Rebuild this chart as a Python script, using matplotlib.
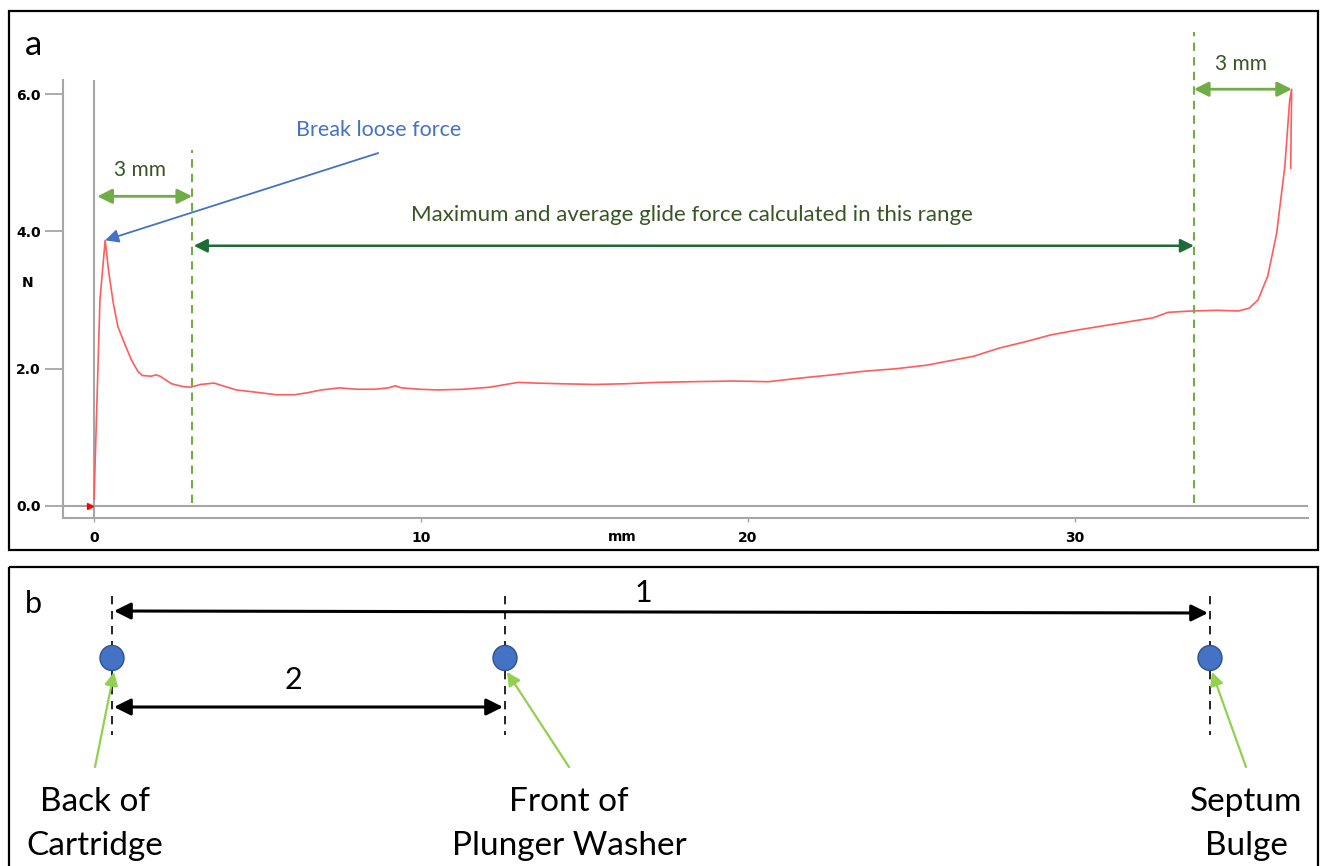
"""Glide force profile (panel a) and measurement schematic (panel b)."""

import matplotlib.pyplot as plt
from matplotlib.patches import Ellipse, Rectangle

# force curve: travel (mm) vs force (N)
FORCE_X = [0.0, 0.05, 0.18, 0.34, 0.45, 0.59, 0.73, 0.93, 1.14, 1.34, 1.48, 1.75, 1.89,
           2.02, 2.37, 2.71, 2.95, 3.26, 3.67, 3.94, 4.35, 4.90, 5.58, 6.13, 6.54, 6.95,
           7.50, 8.04, 8.59, 9.00, 9.21, 9.41, 9.96, 10.5, 11.3, 12.1, 12.97, 13.5, 14.3,
           15.3, 16.25, 17.2, 18.27, 19.58, 20.63, 21.54, 22.59, 23.5, 24.55, 25.46, 26.12,
           26.9, 27.69, 28.47, 29.25, 30.04, 30.82, 31.6, 32.39, 32.85, 33.57, 34.35, 35.0,
           35.33, 35.6, 35.9, 36.17, 36.42, 36.57, 36.63, 36.6]
FORCE_N = [0.10, 0.90, 3.00, 3.87, 3.40, 2.95, 2.61, 2.37, 2.13, 1.96, 1.90, 1.89, 1.91,
           1.89, 1.78, 1.74, 1.73, 1.77, 1.79, 1.75, 1.69, 1.66, 1.62, 1.62, 1.65, 1.69,
           1.72, 1.70, 1.70, 1.72, 1.75, 1.72, 1.70, 1.69, 1.70, 1.73, 1.80, 1.79, 1.78,
           1.77, 1.78, 1.80, 1.81, 1.82, 1.81, 1.86, 1.91, 1.96, 2.00, 2.05, 2.11,
           2.18, 2.30, 2.39, 2.49, 2.56, 2.62, 2.68, 2.74, 2.82, 2.84, 2.85, 2.84,
           2.88, 3.00, 3.35, 3.97, 4.94, 5.91, 6.07, 4.92]

Y_TICKS = [0, 2, 4, 6]
X_TICKS = [0, 10, 20, 30]
RANGE_START, RANGE_END, PEAK_END = 3.0, 33.64, 36.64

B_LABELS = ["Back of\nCartridge", "Front of\nPlunger Washer", "Septum\nBulge"]
B_X = [112, 505, 1210]        # schematic positions (px)
B_LABEL_X = [95, 569, 1246]

LIGHT_GREEN = "#70ad47"
DARK_GREEN = "#375623"
BLUE = "#4472c4"
GREY = "#a6a6a6"
FONT = "Lato"

fig = plt.figure(figsize=(13.2, 8.66), dpi=100)
ov = fig.add_axes([0, 0, 1, 1])
ov.set_xlim(0, 1320); ov.set_ylim(866, 0); ov.axis("off")

# panel frames
ov.add_patch(Rectangle((9, 11), 1309, 539, fill=False, ec="black", lw=1.6))
ov.add_patch(Rectangle((9, 567), 1309, 310, fill=False, ec="black", lw=1.6, clip_on=False))
ov.text(33, 45, "a", fontsize=25, family=FONT, ha="center", va="center")
ov.text(33, 604, "b", fontsize=22, family=FONT, ha="center", va="center")
ov.text(28, 283, "N", fontsize=10, fontweight="bold", ha="center", va="center")
ov.text(622, 537, "mm", fontsize=10, fontweight="bold", ha="center", va="center")

# ---- panel a ----
ax = fig.add_axes([63 / 1320, 1 - 518 / 866, 1245 / 1320, 438 / 866])
ax.patch.set_visible(False)
ax.set_xlim(-0.95, 37.13); ax.set_ylim(-0.175, 6.204)
for s in ["top", "right"]:
    ax.spines[s].set_visible(False)
for s in ["left", "bottom"]:
    ax.spines[s].set_color(GREY); ax.spines[s].set_linewidth(1.5)
ax.set_yticks(Y_TICKS, [f"{v:.1f}" for v in Y_TICKS])
ax.set_xticks(X_TICKS, [str(v) for v in X_TICKS])
ax.tick_params(axis="y", length=13, width=1.3, color=GREY, pad=3, labelsize=10)
ax.tick_params(axis="x", length=3, width=1, color=GREY, pad=6, labelsize=10)
for lab in ax.get_xticklabels() + ax.get_yticklabels():
    lab.set_fontweight("bold")
ax.axhline(0, color=GREY, lw=1.5)
ax.axvline(0, color=GREY, lw=1.5)

ax.plot(FORCE_X, FORCE_N, color="#ff5c5c", lw=1.2)
ax.plot(-0.12, 0, marker=">", color="red", ms=5)

dash = (0, (4, 3))
ax.plot([RANGE_START] * 2, [0.04, 5.18], ls=dash, color=LIGHT_GREEN, lw=1.5)
ax.plot([RANGE_END] * 2, [0.04, 6.9], ls=dash, color=LIGHT_GREEN, lw=1.5, clip_on=False)

dbl = dict(arrowstyle="<|-|>", color=LIGHT_GREEN, lw=2, mutation_scale=22, shrinkA=0, shrinkB=0)
ax.annotate("", xy=(RANGE_START, 4.51), xytext=(0.1, 4.51), arrowprops=dbl)
ax.annotate("", xy=(PEAK_END, 6.07), xytext=(RANGE_END, 6.07), arrowprops=dbl, annotation_clip=False)
ax.text(1.41, 4.89, "3 mm", color=DARK_GREEN, fontsize=15, family=FONT, ha="center", va="center")
ax.text(35.08, 6.44, "3 mm", color=DARK_GREEN, fontsize=15, family=FONT, ha="center", va="center")

ax.annotate("", xy=(RANGE_START + 0.05, 3.79), xytext=(RANGE_END, 3.79),
            arrowprops=dict(arrowstyle="<|-|>", color="#1d6b36", lw=1.8, mutation_scale=20,
                            shrinkA=0, shrinkB=0))
ax.text(18.29, 4.24, "Maximum and average glide force calculated in this range",
        color=DARK_GREEN, fontsize=16, family=FONT, ha="center", va="center")

ax.annotate("", xy=(0.34, 3.87), xytext=(8.69, 5.14),
            arrowprops=dict(arrowstyle="-|>", color=BLUE, lw=1.3, mutation_scale=20,
                            shrinkA=0, shrinkB=0))
ax.text(8.69, 5.48, "Break loose force", color=BLUE, fontsize=15.5, family=FONT,
        ha="center", va="center")

# ---- panel b ----
for x in B_X:
    ov.plot([x, x], [596, 735], color="black", lw=1.2, ls=(0, (5, 4)), zorder=2)
    ov.add_patch(Ellipse((x, 658), 24, 25, fc=BLUE, ec="#2f528f", lw=1, zorder=3))

blk = dict(arrowstyle="<|-|>", color="black", lw=2.2, mutation_scale=25, shrinkA=0, shrinkB=0)
ov.annotate("", xy=(B_X[2] - 2, 613), xytext=(B_X[0] + 2, 611), arrowprops=blk)
ov.annotate("", xy=(B_X[1] - 2, 707), xytext=(B_X[0] + 2, 707), arrowprops=blk)
ov.text(643, 593, "1", fontsize=22, family=FONT, ha="center", va="center")
ov.text(293, 680, "2", fontsize=22, family=FONT, ha="center", va="center")

for x, lx, lab in zip(B_X, B_LABEL_X, B_LABELS):
    ov.annotate("", xy=(x + 2, 672), xytext=(lx, 767),
                arrowprops=dict(arrowstyle="-|>", color="#92d050", lw=1.6, mutation_scale=20,
                                shrinkA=0, shrinkB=0), zorder=4)
    ov.text(lx, 824, lab, fontsize=24, family=FONT, ha="center", va="center", linespacing=1.55)

fig.savefig("out.png", dpi=100)
